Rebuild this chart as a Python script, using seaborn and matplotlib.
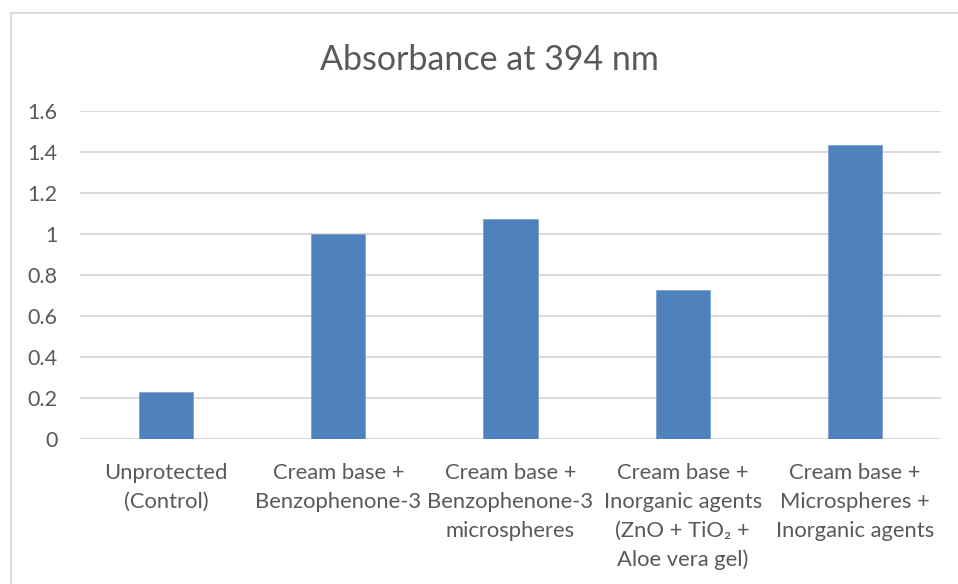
import matplotlib
matplotlib.use("Agg")
import matplotlib.pyplot as plt
import seaborn as sns
import pandas as pd
from matplotlib.lines import Line2D

categories = [
    "Unprotected\n(Control)",
    "Cream base +\nBenzophenone-3",
    "Cream base +\nBenzophenone-3\nmicrospheres",
    "Cream base +\nInorganic agents\n(ZnO + TiO\u2082 +\nAloe vera gel)",
    "Cream base +\nMicrospheres +\nInorganic agents",
]
absorbance = [0.229, 1.0, 1.075, 0.728, 1.436]
yticks = [0, 0.2, 0.4, 0.6, 0.8, 1, 1.2, 1.4, 1.6]
ytick_labels = ["0", "0.2", "0.4", "0.6", "0.8", "1", "1.2", "1.4", "1.6"]
title = "Absorbance at 394 nm"

sns.set_theme(style="white")
plt.rcParams['font.family'] = ['Lato', 'DejaVu Sans']

text_color = "#595959"
grid_color = "#d9d9d9"
bar_color = "#4f81bd"

df = pd.DataFrame({"cat": categories, "val": absorbance})

fig = plt.figure(figsize=(9.58, 5.84), dpi=100)
ax = fig.add_axes([80/958, 1 - 439.3/584, (941-80)/958, (439.3-111)/584])

sns.barplot(data=df, x="cat", y="val", color=bar_color, width=0.314,
            saturation=1, ax=ax, zorder=3, edgecolor="#7ea1d0", linewidth=0.6)

ax.set_ylim(0, 1.6)
ax.set_xlim(-0.5, 4.5)
ax.set_yticks(yticks)
ax.set_yticklabels(ytick_labels)
ax.set_xlabel("")
ax.set_ylabel("")
for s in ax.spines.values():
    s.set_visible(False)
ax.yaxis.grid(True, color=grid_color, linewidth=1.4, zorder=0)
ax.set_axisbelow(True)
ax.tick_params(axis="y", length=0, pad=16, labelsize=15.5, labelcolor=text_color)
ax.tick_params(axis="x", length=0, pad=17, labelsize=15.8, labelcolor=text_color)
for lbl in ax.get_xticklabels():
    lbl.set_linespacing(1.55)
    lbl.set_verticalalignment("top")

fig.text(489/958, 1 - 70/584, title, ha="center", va="baseline",
         fontsize=24.5, color=text_color)

# outer chart border (left and top edges)
fig.add_artist(Line2D([10.5/958, 10.5/958], [0, 1 - 13/584], transform=fig.transFigure,
                      color=grid_color, linewidth=1.3))
fig.add_artist(Line2D([10.5/958, 1], [1 - 13/584, 1 - 13/584], transform=fig.transFigure,
                      color=grid_color, linewidth=1.3))

fig.savefig("out.png", dpi=100, facecolor="white")
